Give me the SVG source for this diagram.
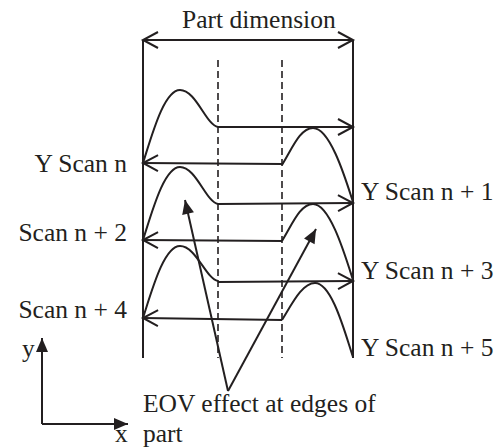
<svg xmlns="http://www.w3.org/2000/svg" width="502" height="448" viewBox="0 0 502 448">
<style>
text{font-family:"Liberation Serif","DejaVu Serif",serif;font-size:25.5px;fill:#231f20}
.ln{stroke:#231f20;stroke-width:2;fill:none}
.dash{stroke:#231f20;stroke-width:1.6;fill:none;stroke-dasharray:7 4}
.crv{stroke:#231f20;stroke-width:2;fill:none;stroke-linejoin:round}
.open{marker-end:url(#chev)}
.dim{marker-start:url(#chev);marker-end:url(#chev)}
.fill{marker-end:url(#tri)}
</style>
<defs>
<marker id="chev" markerUnits="userSpaceOnUse" orient="auto-start-reverse" refX="0" refY="0" markerWidth="20" markerHeight="20" overflow="visible">
<path d="M-15,-8 L0,0 L-15,8" fill="none" stroke="#231f20" stroke-width="2"/>
</marker>
<marker id="tri" markerUnits="userSpaceOnUse" orient="auto" refX="0" refY="0" markerWidth="20" markerHeight="20" overflow="visible">
<path d="M-14,-6 L0,0 L-14,6 Z" fill="#231f20"/>
</marker>
</defs>
<rect width="502" height="448" fill="#fff"/>
<g id="frame">
<line class="ln" x1="143" y1="40" x2="143" y2="358"/>
<line class="ln" x1="353" y1="40" x2="353" y2="358"/>
<line class="dash" x1="218" y1="60" x2="218" y2="358"/>
<line class="dash" x1="282" y1="60" x2="282" y2="358"/>
</g>
<g id="humps">
<path class="crv" d="M143,163 C152,135 164,90 180,90 C196,90 206,125 218,127"/>
<path class="crv" d="M282,165 C292,149 300,128 313,128 C330,128 345,177 353,202"/>
<path class="crv" d="M143,240 C152,212 164,167 180,167 C196,167 206,202 218,204"/>
<path class="crv" d="M282,241 C292,225 300,204 313,204 C330,204 345,255 353,280"/>
<path class="crv" d="M143,318 C152,290 164,246 180,246 C196,246 206,279 218,281"/>
<path class="crv" d="M282,320 C292,304 302,283 315,283 C332,283 345,333 353,357"/>
</g>
<g id="connectors">
<line class="ln dim" x1="143" y1="40" x2="353" y2="40"/>
<line class="ln open" x1="218" y1="127" x2="353" y2="127"/>
<line class="ln open" x1="282" y1="164" x2="143" y2="163"/>
<line class="ln open" x1="218" y1="204" x2="353" y2="203"/>
<line class="ln open" x1="282" y1="241" x2="143" y2="240"/>
<line class="ln open" x1="218" y1="282" x2="353" y2="281"/>
<line class="ln open" x1="282" y1="320" x2="143" y2="318"/>
<line class="ln fill" x1="228" y1="391" x2="185" y2="200"/>
<line class="ln fill" x1="228" y1="391" x2="316" y2="229"/>
<line class="ln fill" x1="42" y1="424" x2="42" y2="338"/>
<line class="ln fill" x1="42" y1="424" x2="128" y2="424"/>
</g>
<g id="labels" font-family="Liberation Serif, DejaVu Serif, serif">
<text x="182" y="28">Part dimension</text>
<text x="127" y="172" text-anchor="end">Y Scan n</text>
<text x="127" y="241" text-anchor="end">Scan n + 2</text>
<text x="127" y="318" text-anchor="end">Scan n + 4</text>
<text x="361" y="200">Y Scan n + 1</text>
<text x="361" y="279">Y Scan n + 3</text>
<text x="361" y="356">Y Scan n + 5</text>
<text x="22" y="357">y</text>
<text x="115" y="442">x</text>
<text x="143" y="412">EOV effect at edges of</text>
<text x="143" y="442">part</text>
</g>
</svg>
